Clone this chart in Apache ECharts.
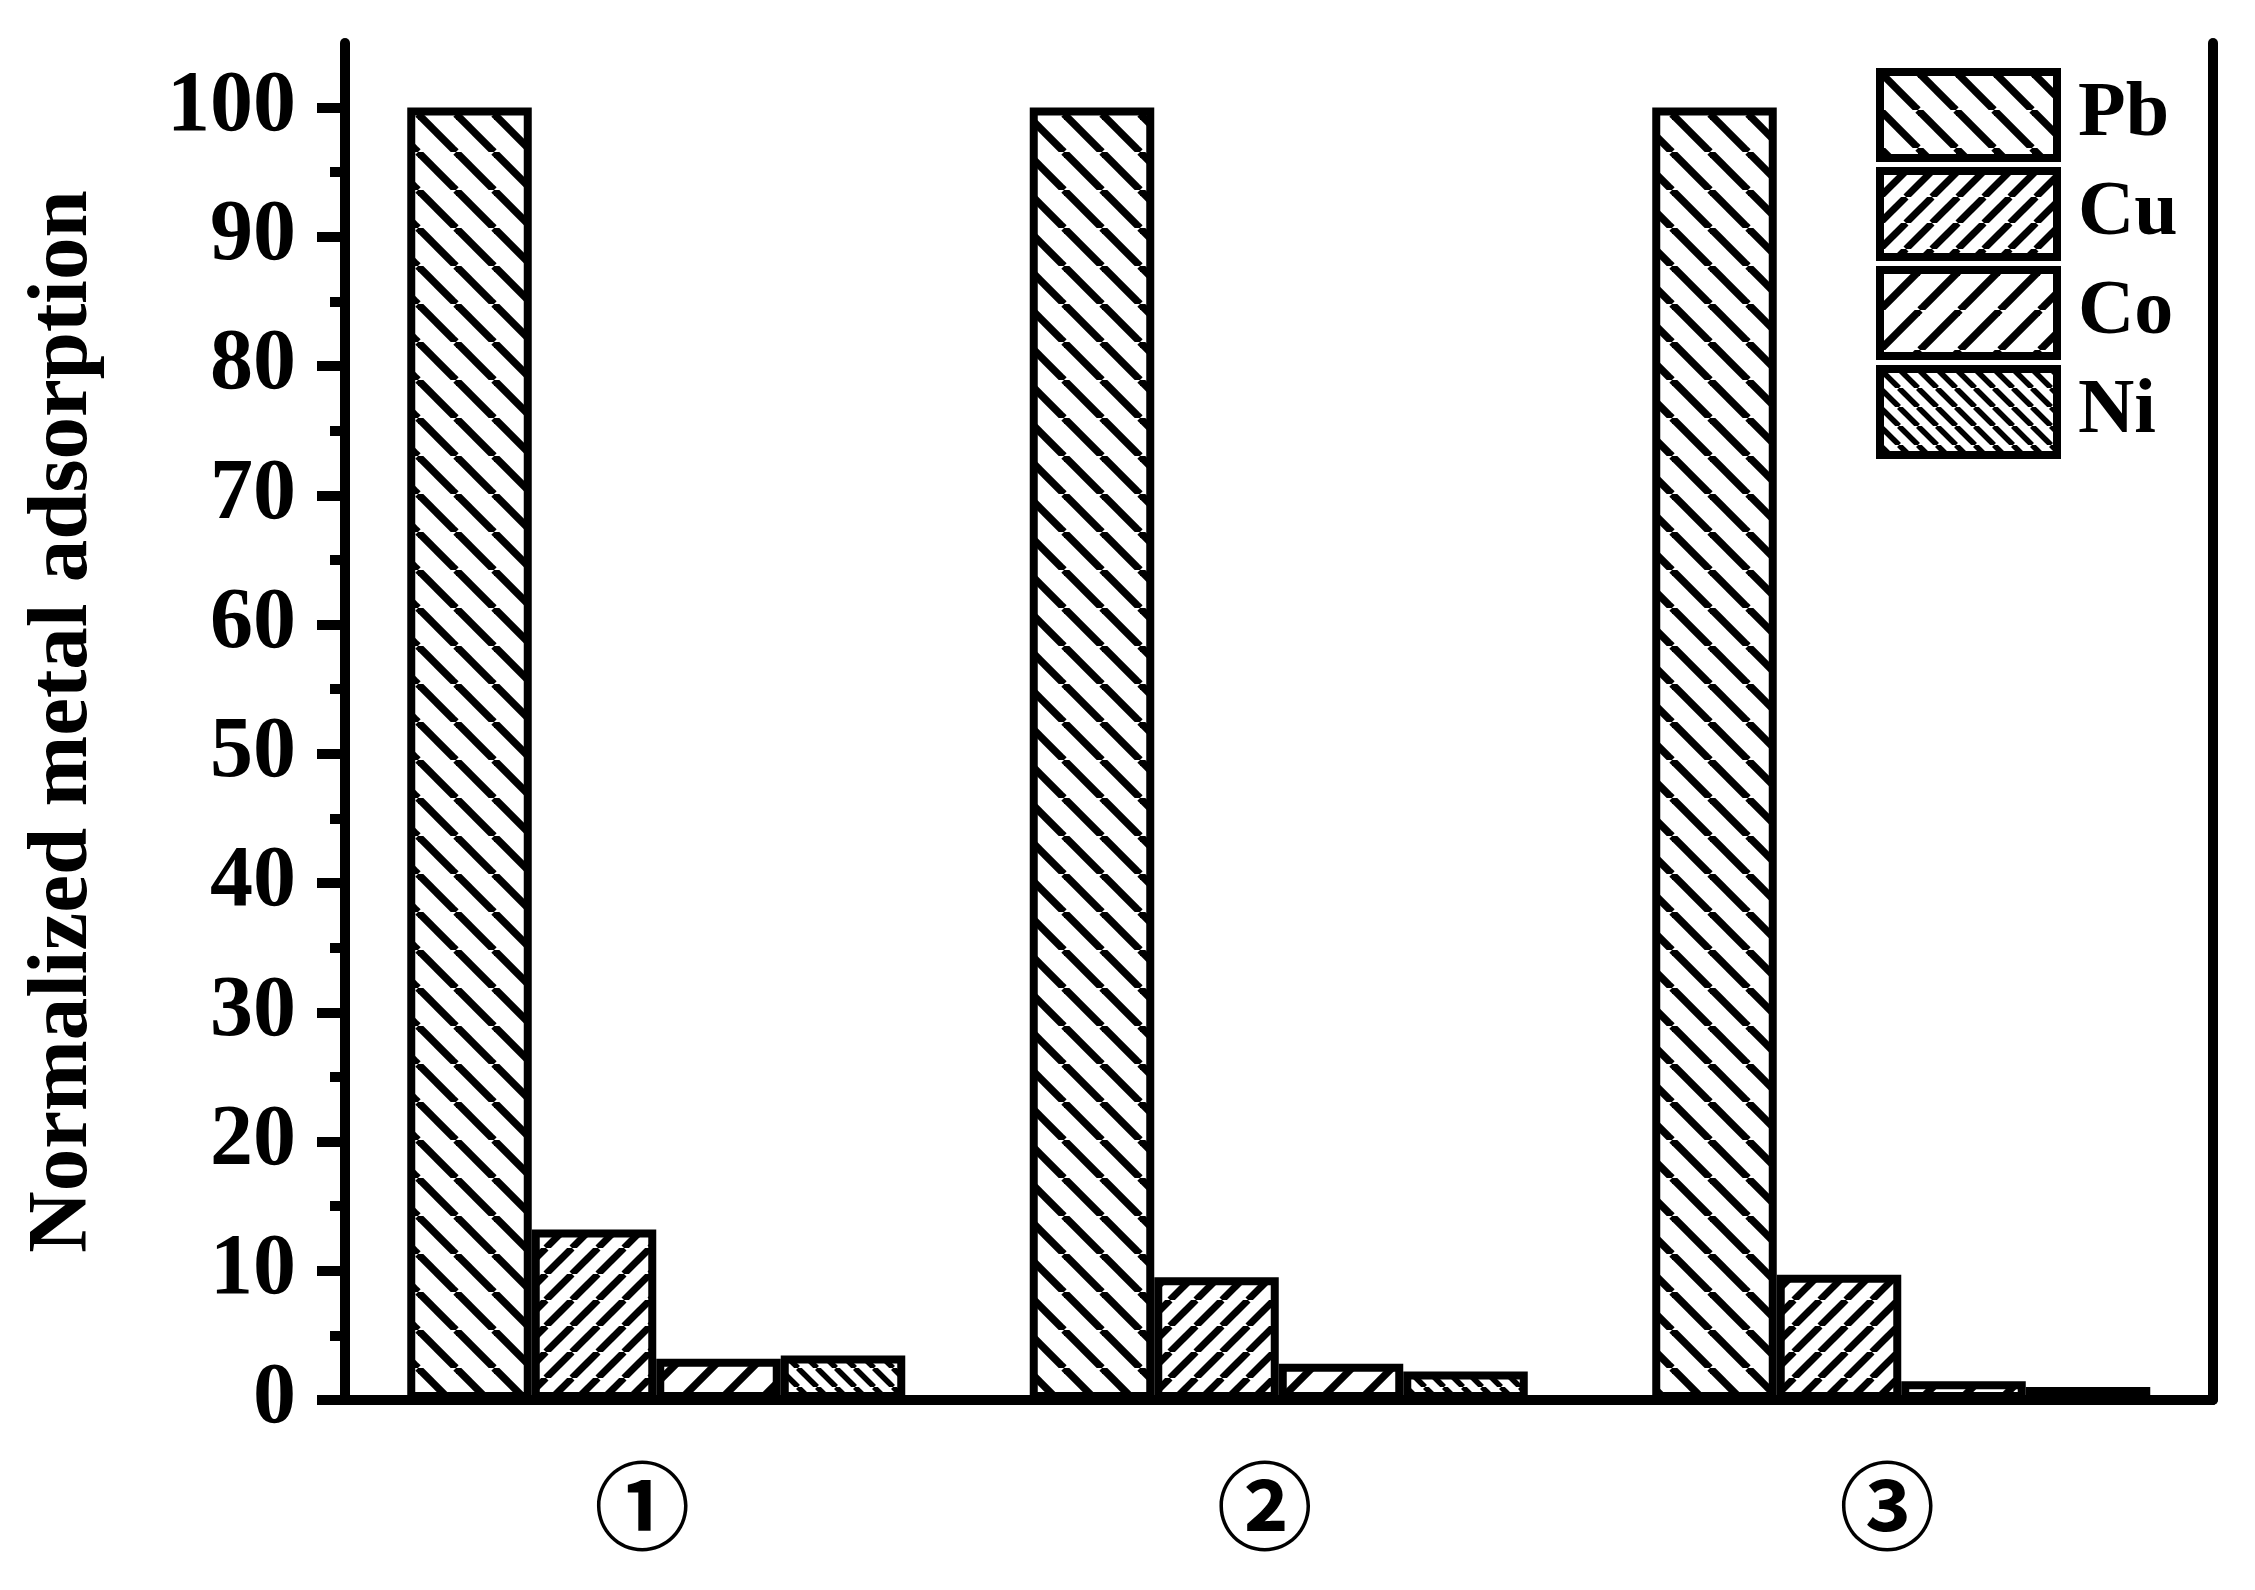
<!DOCTYPE html>
<html>
<head>
<meta charset="utf-8">
<script src="https://cdn.jsdelivr.net/npm/echarts@6/dist/echarts.min.js"></script>
<style>
html,body{margin:0;padding:0;background:#fff;}
#chart{width:2255px;height:1590px;}
</style>
</head>
<body>
<div id="chart"></div>
<script>
// ---- data ----
const categories = ['①', '②', '③'];
const seriesNames = ['Pb', 'Cu', 'Co', 'Ni'];
const pbValues = [100, 100, 100];
const cuValues = [13.2, 9.5, 9.7];
const coValues = [3.2, 2.8, 1.45];
const niValues = [3.45, 2.2, 1.0];
const majorTicks = [0, 10, 20, 30, 40, 50, 60, 70, 80, 90, 100];
const minorTicks = [5, 15, 25, 35, 45, 55, 65, 75, 85, 95];

// ---- hatch patterns ----
function makeHatch(period, lw, dir) {
  const c = document.createElement('canvas');
  c.width = period; c.height = period;
  const ctx = c.getContext('2d');
  ctx.fillStyle = '#fff';
  ctx.fillRect(0, 0, period, period);
  ctx.strokeStyle = '#000';
  ctx.lineWidth = lw;
  for (let k = -1; k <= 1; k++) {
    ctx.beginPath();
    if (dir === '/') {
      ctx.moveTo(k * period, period);
      ctx.lineTo(k * period + period, 0);
    } else {
      ctx.moveTo(k * period, 0);
      ctx.lineTo(k * period + period, period);
    }
    ctx.stroke();
  }
  return { image: c, repeat: 'repeat' };
}
const patterns = [
  makeHatch(38, 7.5, '\\'),
  makeHatch(26, 7, '/'),
  makeHatch(40, 7.5, '/'),
  makeHatch(19, 5.5, '\\')
];
const valuesList = [pbValues, cuValues, coValues, niValues];

const serif = '"Liberation Serif", "Times New Roman", Times, serif';
const chart = echarts.init(document.getElementById('chart'));
chart.setOption({
  animation: false,
  backgroundColor: '#fff',
  grid: { left: 345, right: 42.5, top: 43, bottom: 190, containLabel: false },
  legend: {
    orient: 'vertical',
    left: 1876,
    top: 68,
    padding: 0,
    itemWidth: 177,
    itemHeight: 86,
    itemGap: 5,
    icon: 'rect',
    data: seriesNames,
    itemStyle: { borderColor: '#000', borderWidth: 8 },
    textStyle: { fontSize: 78, fontWeight: 'bold', fontFamily: serif, color: '#000', padding: [0, 0, 0, 16], lineHeight: 66 }
  },
  xAxis: [
    {
      type: 'category',
      data: categories,
      position: 'bottom',
      axisLine: { lineStyle: { color: '#000', width: 10 } },
      axisTick: { show: false },
      axisLabel: { fontSize: 96, fontFamily: '"Noto Sans CJK SC"', fontWeight: 'bold', color: '#000', margin: 58, padding: [0, 28, 0, 0] },
      splitLine: { show: false }
    },
    {
      type: 'category',
      data: categories,
      position: 'top',
      axisLine: { lineStyle: { color: '#000', width: 10 } },
      axisTick: { show: false },
      axisLabel: { show: false },
      splitLine: { show: false }
    }
  ],
  yAxis: [
    {
      type: 'value',
      min: 0, max: 105,
      position: 'left',
      name: 'Normalized metal adsorption',
      nameLocation: 'middle',
      nameGap: 238,
      nameTextStyle: { fontSize: 85, fontWeight: 'bold', fontFamily: serif, color: '#000' },
      axisLine: { show: true, lineStyle: { color: '#000', width: 10 } },
      axisTick: { show: true, inside: false, length: 28, lineStyle: { color: '#000', width: 10 }, customValues: majorTicks },
      axisLabel: { fontSize: 86, fontWeight: 'bold', fontFamily: serif, color: '#000', margin: 49, customValues: majorTicks },
      splitLine: { show: false }
    },
    {
      type: 'value',
      min: 0, max: 105,
      position: 'left',
      axisLine: { show: false },
      axisTick: { show: true, inside: false, length: 15, lineStyle: { color: '#000', width: 10 }, customValues: minorTicks },
      axisLabel: { show: false },
      splitLine: { show: false }
    },
    {
      type: 'value',
      min: 0, max: 105,
      position: 'right',
      axisLine: { show: true, lineStyle: { color: '#000', width: 10 } },
      axisTick: { show: false },
      axisLabel: { show: false },
      splitLine: { show: false }
    }
  ],
  series: seriesNames.map((name, i) => ({
    name: name,
    type: 'bar',
    xAxisIndex: 0,
    yAxisIndex: 0,
    data: valuesList[i],
    barGap: '0%',
    barCategoryGap: '20%',
    itemStyle: { color: patterns[i], borderColor: '#000', borderWidth: 8 },
    emphasis: { disabled: true }
  }))
});
</script>
</body>
</html>
